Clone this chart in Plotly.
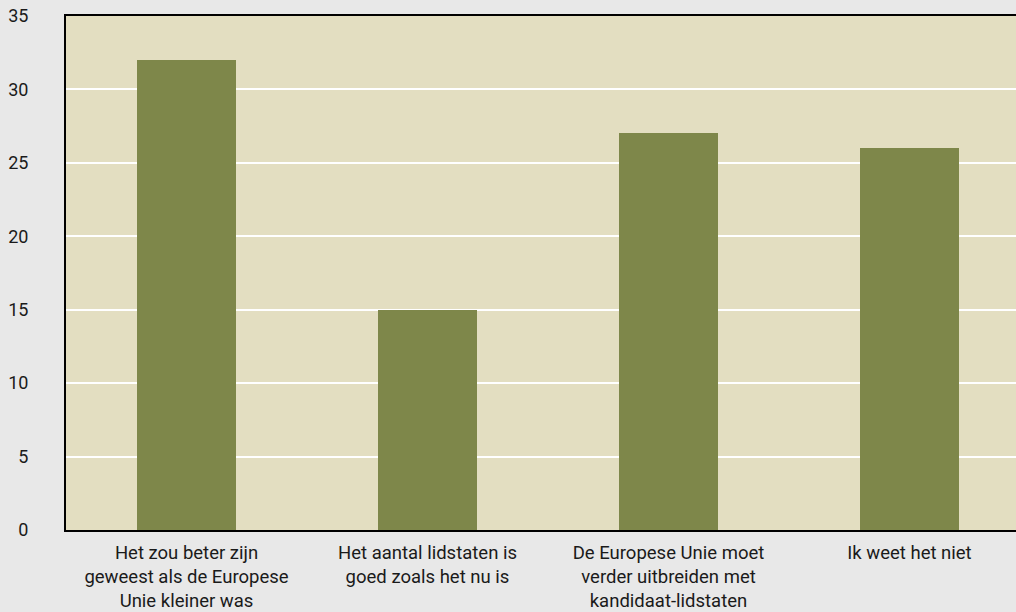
import plotly.graph_objects as go

categories = [
    "Het zou beter zijn<br>geweest als de Europese<br>Unie kleiner was",
    "Het aantal lidstaten is<br>goed zoals het nu is",
    "De Europese Unie moet<br>verder uitbreiden met<br>kandidaat-lidstaten",
    "Ik weet het niet",
]
values = [32, 15, 27, 26]
y_ticks = [0, 5, 10, 15, 20, 25, 30, 35]

fig = go.Figure(go.Bar(
    x=list(range(len(categories))),
    y=values,
    marker=dict(color="#7e874a", line=dict(width=0)),
    width=0.41,
))

font = dict(family="Roboto, Arial, sans-serif", size=19, color="#1a1a1a")

fig.update_layout(
    width=1016, height=612,
    margin=dict(l=66, r=0, t=16, b=82),
    paper_bgcolor="#e8e8e8",
    plot_bgcolor="#e3dec1",
    font=font,
    showlegend=False,
    bargap=0,
)
fig.update_xaxes(
    tickmode="array",
    tickvals=list(range(len(categories))),
    ticktext=categories,
    range=[-0.5, 3.442],
    showline=True, linecolor="#000000", linewidth=2, mirror=True,
    showgrid=False, ticks="", ticklabelstandoff=5,
    tickfont=dict(size=18.5),
    automargin=False,
)
fig.update_yaxes(
    range=[0, 35],
    tickvals=y_ticks,
    showline=True, linecolor="#000000", linewidth=2,
    showgrid=True, gridcolor="#ffffff", gridwidth=2,
    zeroline=False,
    ticks="", ticklabelstandoff=32,
    tickfont=dict(size=18),
    automargin=False,
)

fig.write_html(
    "out.html",
    config={"displayModeBar": False},
    post_script="document.body.style.margin='0px';document.body.style.overflow='hidden';",
)
